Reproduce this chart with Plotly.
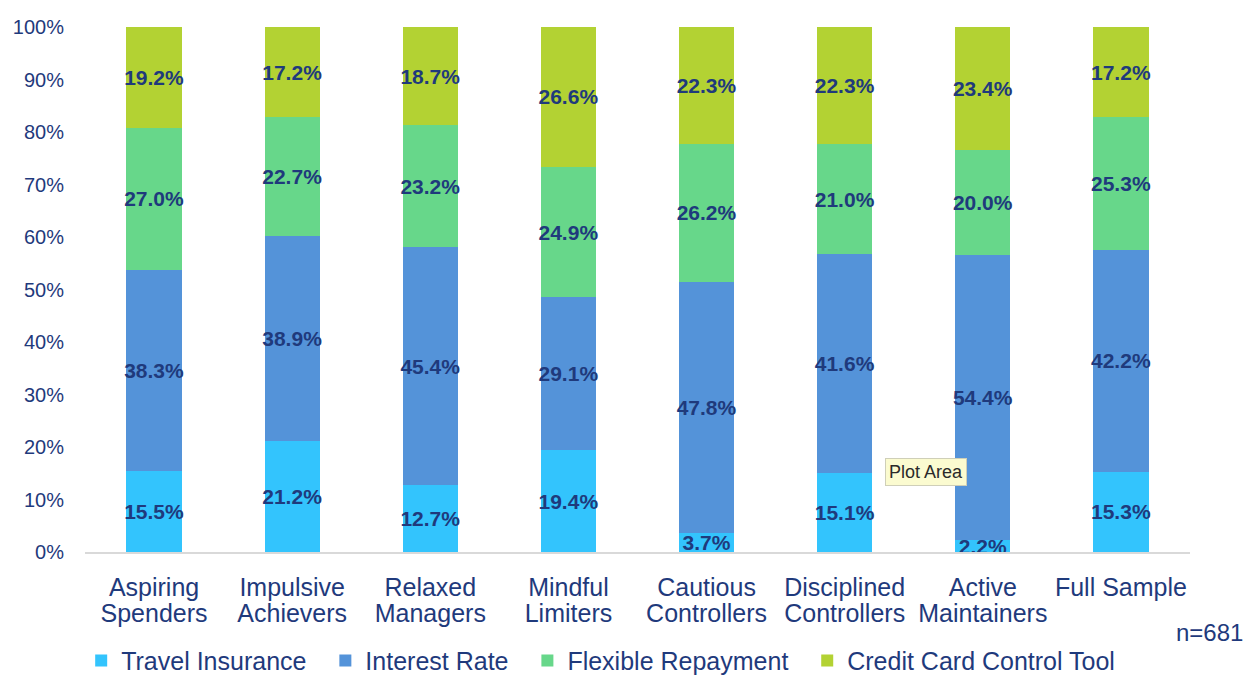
import plotly.graph_objects as go

# Segment shares (%) for each customer segment
categories = [
    "Aspiring Spenders", "Impulsive Achievers", "Relaxed Managers",
    "Mindful Limiters", "Cautious Controllers", "Disciplined Controllers",
    "Active Maintainers", "Full Sample",
]
# Category labels split over two rows under the axis
label_row1 = ["Aspiring", "Impulsive", "Relaxed", "Mindful", "Cautious",
              "Disciplined", "Active", "Full Sample"]
label_row2 = ["Spenders", "Achievers", "Managers", "Limiters", "Controllers",
              "Controllers", "Maintainers", ""]
travel_insurance = [15.5, 21.2, 12.7, 19.4, 3.7, 15.1, 2.2, 15.3]
interest_rate = [38.3, 38.9, 45.4, 29.1, 47.8, 41.6, 54.4, 42.2]
flexible_repayment = [27.0, 22.7, 23.2, 24.9, 26.2, 21.0, 20.0, 25.3]
credit_card_tool = [19.2, 17.2, 18.7, 26.6, 22.3, 22.3, 23.4, 17.2]
y_ticks = [0, 10, 20, 30, 40, 50, 60, 70, 80, 90, 100]

series = [
    ("Travel Insurance", travel_insurance, "#33c4fd"),
    ("Interest Rate", interest_rate, "#5493d9"),
    ("Flexible Repayment", flexible_repayment, "#67d78a"),
    ("Credit Card Control Tool", credit_card_tool, "#b3d233"),
]

NAVY = "#1f3a7c"
FONT = "Liberation Sans, Arial, sans-serif"
PAD = "\u00a0\u00a0"  # extra room after each legend entry

fig = go.Figure()
for name, vals, color in series:
    fig.add_trace(go.Bar(
        name=name + PAD,
        x=categories,
        y=vals,
        marker=dict(color=color, line=dict(width=0)),
        text=[f"{v:.1f}%" for v in vals],
        textposition="inside",
        insidetextanchor="middle",
        constraintext="none",
        textangle=0,
        textfont=dict(family=FONT, size=21, color=NAVY, weight="bold"),
        hoverinfo="skip",
    ))

# invisible carrier for the second row of category labels
fig.add_trace(go.Scatter(
    x=categories, y=[0] * len(categories), xaxis="x2", mode="markers",
    marker=dict(opacity=0), showlegend=False, hoverinfo="skip",
))

fig.update_layout(
    barmode="stack",
    bargap=0.6,
    width=1249,
    height=675,
    margin=dict(l=85, r=59, t=27, b=123, autoexpand=False),
    plot_bgcolor="white",
    paper_bgcolor="white",
    font=dict(family=FONT, color=NAVY),
    showlegend=True,
    legend=dict(
        orientation="h",
        x=0.065, xanchor="left", xref="container",
        y=0.021, yanchor="middle", yref="container",
        font=dict(size=25, color=NAVY, family=FONT),
        itemwidth=30,
        traceorder="normal",
        bgcolor="rgba(0,0,0,0)",
    ),
    xaxis=dict(
        showgrid=False,
        showline=True,
        linecolor="#d9d9d9",
        linewidth=2,
        ticks="",
        tickmode="array",
        tickvals=categories,
        ticktext=label_row1,
        ticklabelstandoff=12,
        tickfont=dict(size=25, color=NAVY, family=FONT),
        range=[-0.5, 7.5],
        automargin=False,
    ),
    xaxis2=dict(
        overlaying="x",
        matches="x",
        anchor="y",
        side="bottom",
        showgrid=False,
        showline=False,
        zeroline=False,
        ticks="",
        tickmode="array",
        tickvals=categories,
        ticktext=label_row2,
        ticklabelstandoff=44,
        tickfont=dict(size=25, color=NAVY, family=FONT),
        automargin=False,
    ),
    yaxis=dict(
        range=[0, 100],
        tickvals=y_ticks,
        ticktext=[f"{v}%" for v in y_ticks],
        showgrid=False,
        showline=False,
        zeroline=False,
        ticks="",
        ticklabelstandoff=20,
        tickfont=dict(size=20, color=NAVY, family=FONT),
        automargin=False,
    ),
)

fig.add_annotation(
    text="n=681", xref="paper", yref="paper", x=1.0498, y=-0.154,
    xanchor="right", yanchor="middle", showarrow=False,
    font=dict(size=24, color=NAVY, family=FONT),
)
fig.add_annotation(
    text="Plot Area", xref="paper", yref="paper", x=0.724, y=0.152,
    xanchor="left", yanchor="middle", showarrow=False,
    bgcolor="#fbfbd0", bordercolor="#cfcfb8", borderwidth=1, borderpad=3,
    font=dict(size=18, color="#2a2a2a", family=FONT),
)

fig.write_html("out.html")
